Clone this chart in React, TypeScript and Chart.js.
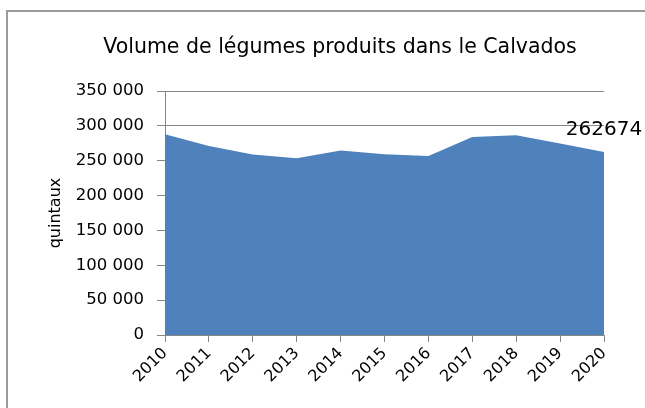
import React, { useEffect, useRef } from "react";
import { Chart, registerables } from "chart.js";

Chart.register(...registerables);

const years = ["2010", "2011", "2012", "2013", "2014", "2015", "2016", "2017", "2018", "2019", "2020"];
const volumes = [288000, 271000, 259000, 253600, 264600, 259300, 256900, 284100, 286500, 274600, 262674];
const yMin = 0;
const yMax = 350000;
const yStep = 50000;
const chartTitle = "Volume de légumes produits dans le Calvados";
const yAxisTitle = "quintaux";

const FONT = "'DejaVu Sans', Verdana, sans-serif";
const GRID = "#868686";
const FILL = "#4F81BD";

const fmt = (v: number) => String(v).replace(/\B(?=(\d{3})+(?!\d))/g, " ");

const overlayPlugin = {
  id: "overlayText",
  afterDatasetsDraw(chart: any) {
    const ctx = chart.ctx;
    ctx.save();
    // chart title
    ctx.fillStyle = "#000";
    ctx.font = `20.5px ${FONT}`;
    ctx.textAlign = "center";
    ctx.textBaseline = "alphabetic";
    ctx.fillText(chartTitle, 340, 53);
    // data label on last point
    const meta = chart.getDatasetMeta(0);
    const last = meta.data.length - 1;
    const pt = meta.data[last];
    ctx.font = `20px ${FONT}`;
    ctx.textBaseline = "middle";
    ctx.fillText(String(volumes[last]), pt.x, pt.y - 22);
    ctx.restore();
  },
};

export default function App() {
  const ref = useRef<HTMLCanvasElement | null>(null);

  useEffect(() => {
    if (!ref.current) return;
    const chart = new Chart(ref.current, {
      type: "line",
      data: {
        labels: years,
        datasets: [
          {
            data: volumes,
            fill: "origin",
            backgroundColor: FILL,
            borderColor: FILL,
            borderWidth: 0,
            pointRadius: 0,
            tension: 0,
          },
        ],
      },
      options: {
        responsive: false,
        animation: false,
        devicePixelRatio: 1,
        layout: { padding: { left: 42, right: 41, top: 91, bottom: 0 } },
        plugins: {
          legend: { display: false },
          tooltip: { enabled: false },
          title: { display: false },
        },
        scales: {
          x: {
            type: "category",
            offset: false,
            grid: { drawOnChartArea: false, drawTicks: true, tickLength: 7, color: GRID },
            border: { display: true, color: GRID },
            ticks: {
              minRotation: 45,
              maxRotation: 45,
              autoSkip: false,
              padding: 2,
              color: "#000",
              font: { family: FONT, size: 16 },
            },
            afterFit(s: any) {
              s.height = 73;
            },
          },
          y: {
            min: yMin,
            max: yMax,
            ticks: {
              stepSize: yStep,
              padding: 13,
              color: "#000",
              font: { family: FONT, size: 16.5 },
              callback: (v: any) => fmt(Number(v)),
            },
            grid: { color: GRID, tickLength: 8 },
            border: { display: true, color: GRID },
            title: {
              display: true,
              text: yAxisTitle,
              color: "#000",
              font: { family: FONT, size: 16 },
              padding: { top: 4, bottom: 4 },
            },
            afterFit(s: any) {
              s.width = 123;
            },
          },
        },
      },
      plugins: [overlayPlugin],
    });
    return () => chart.destroy();
  }, []);

  return (
    <div style={{ position: "fixed", left: 0, top: 0, width: 645, height: 408, background: "#fff", overflow: "hidden" }}>
      <div
        style={{
          position: "absolute",
          left: 6,
          top: 10,
          width: 700,
          height: 500,
          border: "2px solid #9a9a9a",
          boxSizing: "border-box",
        }}
      />
      <canvas ref={ref} width={645} height={408} style={{ position: "absolute", left: 0, top: 0, width: 645, height: 408 }} />
    </div>
  );
}
